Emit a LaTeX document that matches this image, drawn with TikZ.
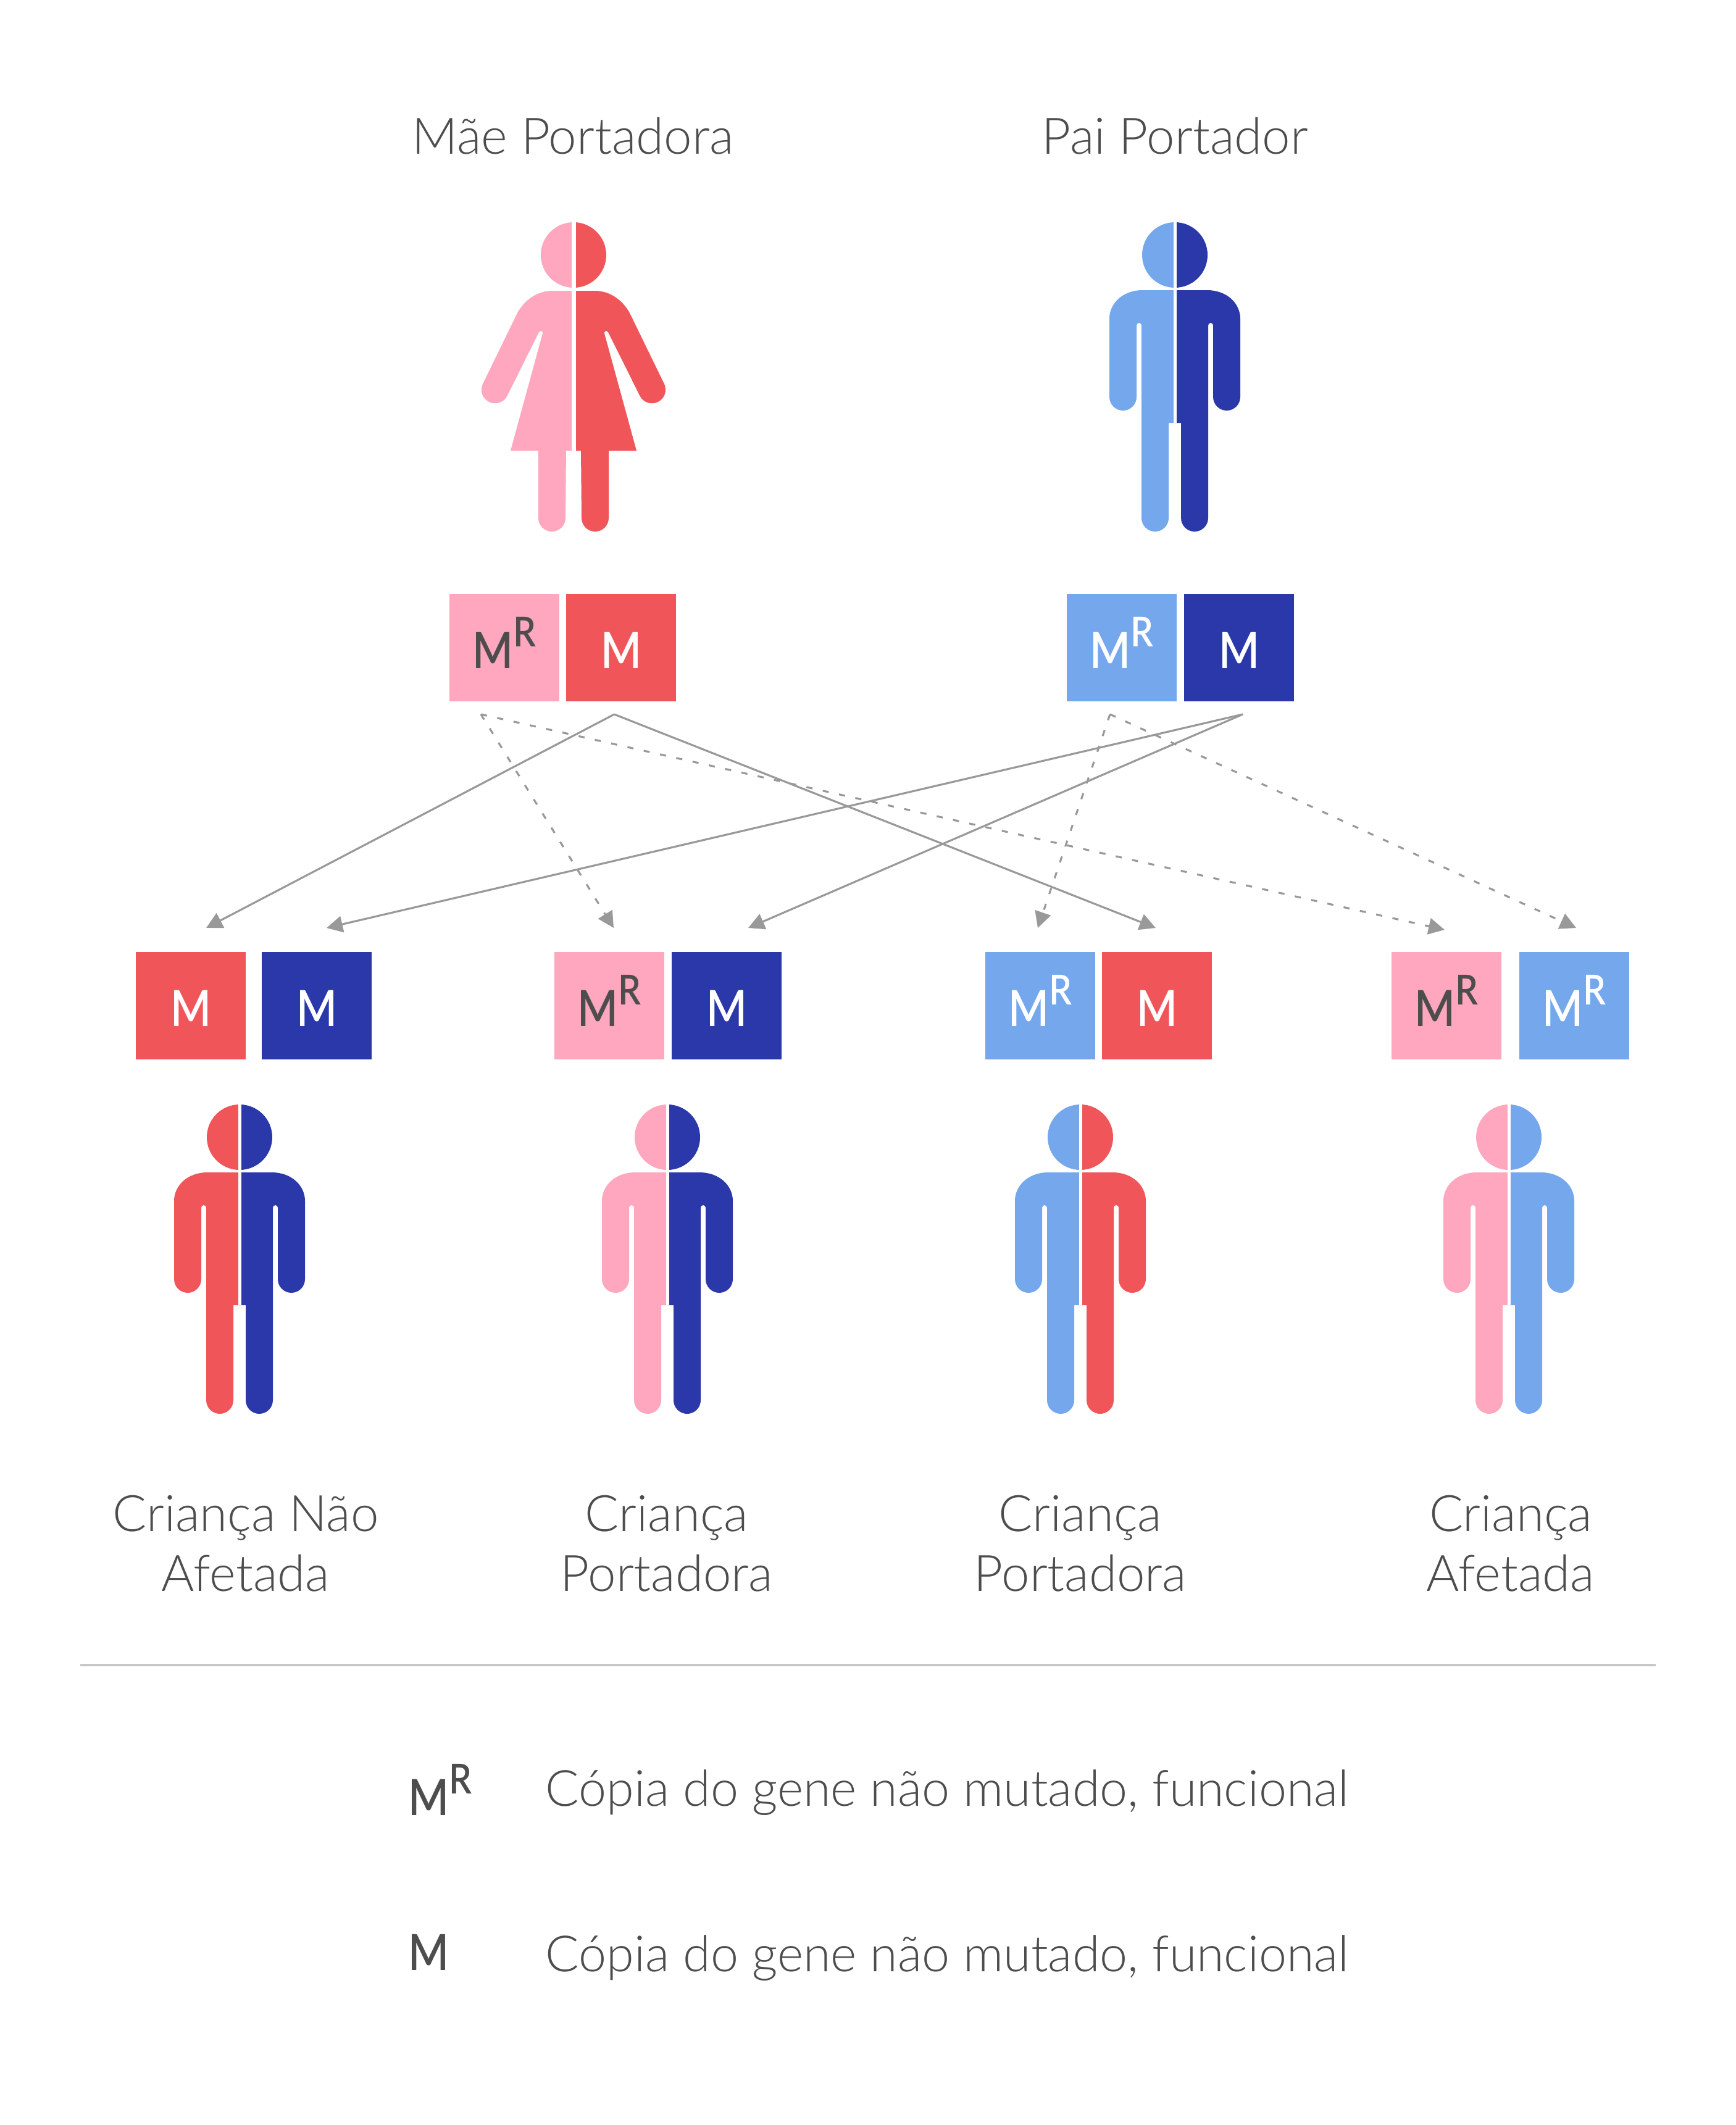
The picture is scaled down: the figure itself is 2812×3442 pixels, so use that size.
\documentclass[tikz,border=0pt]{standalone}
\usepackage{fontspec}
\setmainfont{Lato Light}
\newfontfamily\genefont[FakeStretch=0.87]{Lato Semibold}
\usetikzlibrary{arrows.meta}
\definecolor{rosa}{HTML}{FFA7BE}
\definecolor{vermelho}{HTML}{F05659}
\definecolor{azulclaro}{HTML}{74A7EC}
\definecolor{azul}{HTML}{2A38A9}
\definecolor{texto}{HTML}{4D4D4D}
\definecolor{seta}{HTML}{999999}
\tikzset{
  gene/.style={minimum width=1.78cm, minimum height=1.74cm, inner sep=0pt, font=\genefont\fontsize{23}{23}\selectfont},
  legenda/.style={anchor=west, inner sep=0pt, text=texto, font=\genefont\fontsize{23}{23}\selectfont},
  rotulo/.style={text=texto, align=center, font=\fontsize{23.2}{27.4}\selectfont},
  cheia/.style={->, seta, line width=0.9pt},
  tracejada/.style={->, seta, line width=0.9pt, dash pattern=on 0.1cm off 0.17cm},
}
% M com R
\newcommand{\mr}{\smash{\raisebox{-0.33cm}{M\raisebox{0.35cm}{\fontsize{19}{19}\selectfont R}}}}
\newcommand{\emme}{\smash{\raisebox{-0.33cm}{M}}}
% Mulher: x, metade esquerda, metade direita
\newcommand{\mulher}[3]{
\begin{scope}[shift={(#1,362)}]
\fill[#2] (0,-2) arc[start angle=-90, end angle=-270, radius=53];
\fill[#3] (0,-2) arc[start angle=-90, end angle=90, radius=53];
\fill[#2] (0,109) -- (-34,109) .. controls (-60,109) and (-80,125) .. (-91,145)
  -- (-147,260) arc[start angle=-155, end angle=-335, radius=22] -- (-56,176)
  .. controls (-54,173) and (-49,174) .. (-50,178) -- (-102,368) -- (-57,368) -- (-57,477)
  arc[start angle=180, end angle=0, radius=22] -- (-12,368) -- (0,368) -- cycle;
\fill[#3] (0,109) -- (34,109) .. controls (60,109) and (80,125) .. (91,145)
  -- (147,260) arc[start angle=-25, end angle=155, radius=22] -- (56,176)
  .. controls (54,173) and (49,174) .. (50,178) -- (102,368) -- (57,368) -- (57,477)
  arc[start angle=0, end angle=180, radius=22] -- (12,368) -- (0,368) -- cycle;
\fill[white] (-3.5,-3) rectangle (3.5,368);
\end{scope}}
% Homem: x, y, metade esquerda, metade direita
\newcommand{\homem}[4]{
\begin{scope}[shift={(#1,#2)}]
\fill[#3] (0,-2) arc[start angle=-90, end angle=-270, radius=53];
\fill[#4] (0,-2) arc[start angle=-90, end angle=90, radius=53];
\fill[#3] (0,108) -- (-52,108) .. controls (-85,108) and (-106,130) .. (-106,154) -- (-106,281)
  arc[start angle=180, end angle=0, radius=22] -- (-62,165)
  arc[start angle=180, end angle=360, radius=4] -- (-54,477)
  arc[start angle=180, end angle=0, radius=22] -- (-10,323) -- (0,323) -- cycle;
\fill[#4] (0,108) -- (52,108) .. controls (85,108) and (106,130) .. (106,154) -- (106,281)
  arc[start angle=0, end angle=180, radius=22] -- (62,165)
  arc[start angle=0, end angle=-180, radius=4] -- (54,477)
  arc[start angle=0, end angle=180, radius=22] -- (10,477) -- (10,323) -- (0,323) -- cycle;
\fill[white] (-2.5,-3) rectangle (2.5,323);
\end{scope}}
\begin{document}
\begin{tikzpicture}[x=0.01cm, y=-0.01cm, >={Triangle[length=0.26cm,width=0.265cm]}]
\useasboundingbox (0,0) rectangle (2812,3442);
% Pais
\node[rotulo] (mae) at (928,220) {Mãe Portadora};
\node[rotulo] (pai) at (1903,220) {Pai Portador};
\mulher{929}{rosa}{vermelho}
\homem{1903}{362}{azulclaro}{azul}
% Genes dos pais
\node[gene, fill=rosa, text=texto] (maeR) at (817,1049) {\mr};
\node[gene, fill=vermelho, text=white] (maeM) at (1006,1049) {\emme};
\node[gene, fill=azulclaro, text=white] (paiR) at (1817,1049) {\mr};
\node[gene, fill=azul, text=white] (paiM) at (2007,1049) {\emme};
% Genes das criancas
\node[gene, fill=vermelho, text=white] (a1) at (309,1629) {\emme};
\node[gene, fill=azul, text=white] (a2) at (513,1629) {\emme};
\node[gene, fill=rosa, text=texto] (b1) at (987,1629) {\mr};
\node[gene, fill=azul, text=white] (b2) at (1177,1629) {\emme};
\node[gene, fill=azulclaro, text=white] (c1) at (1685,1629) {\mr};
\node[gene, fill=vermelho, text=white] (c2) at (1874,1629) {\emme};
\node[gene, fill=rosa, text=texto] (d1) at (2343,1629) {\mr};
\node[gene, fill=azulclaro, text=white] (d2) at (2550,1629) {\mr};
% Pontas das setas
\coordinate (maeS) at (995,1157);
\coordinate (maeD) at (779,1157);
\coordinate (paiS) at (2013,1157);
\coordinate (paiD) at (1798,1157);
\coordinate (a1t) at (334,1503);
\coordinate (a2t) at (529,1503);
\coordinate (b1t) at (994,1503);
\coordinate (b2t) at (1212,1503);
\coordinate (c1t) at (1681,1503);
\coordinate (c2t) at (1872,1503);
\coordinate (d1t) at (2340,1506);
\coordinate (d2t) at (2553,1503);
% Setas
\draw[cheia] (maeS) -- (a1t);
\draw[cheia] (maeS) -- (c2t);
\draw[cheia] (paiS) -- (a2t);
\draw[cheia] (paiS) -- (b2t);
\draw[tracejada] (maeD) -- (b1t);
\draw[tracejada] (maeD) -- (d1t);
\draw[tracejada] (paiD) -- (c1t);
\draw[tracejada] (paiD) -- (d2t);
% Criancas
\homem{388}{1791}{vermelho}{azul}
\homem{1081}{1791}{rosa}{azul}
\homem{1750}{1791}{azulclaro}{vermelho}
\homem{2444}{1791}{rosa}{azulclaro}
\node[rotulo] (ca) at (398,2500) {Criança Não\\Afetada};
\node[rotulo] (cb) at (1080,2500) {Criança\\Portadora};
\node[rotulo] (cc) at (1750,2500) {Criança\\Portadora};
\node[rotulo] (cd) at (2447,2500) {Criança\\Afetada};
% Legenda
\draw[draw=black!22, line width=1pt] (130,2697) -- (2682,2697);
\node[legenda] (lr) at (661,2907) {\mr};
\node[legenda] (lm) at (661,3158) {\emme};
\node[rotulo, anchor=west, inner sep=0pt, font=\fontsize{23}{27.4}\selectfont] (tr) at (883,2904) {Cópia do gene não mutado, funcional};
\node[rotulo, anchor=west, inner sep=0pt, font=\fontsize{23}{27.4}\selectfont] (tm) at (883,3172) {Cópia do gene não mutado, funcional};
\end{tikzpicture}
\end{document}
